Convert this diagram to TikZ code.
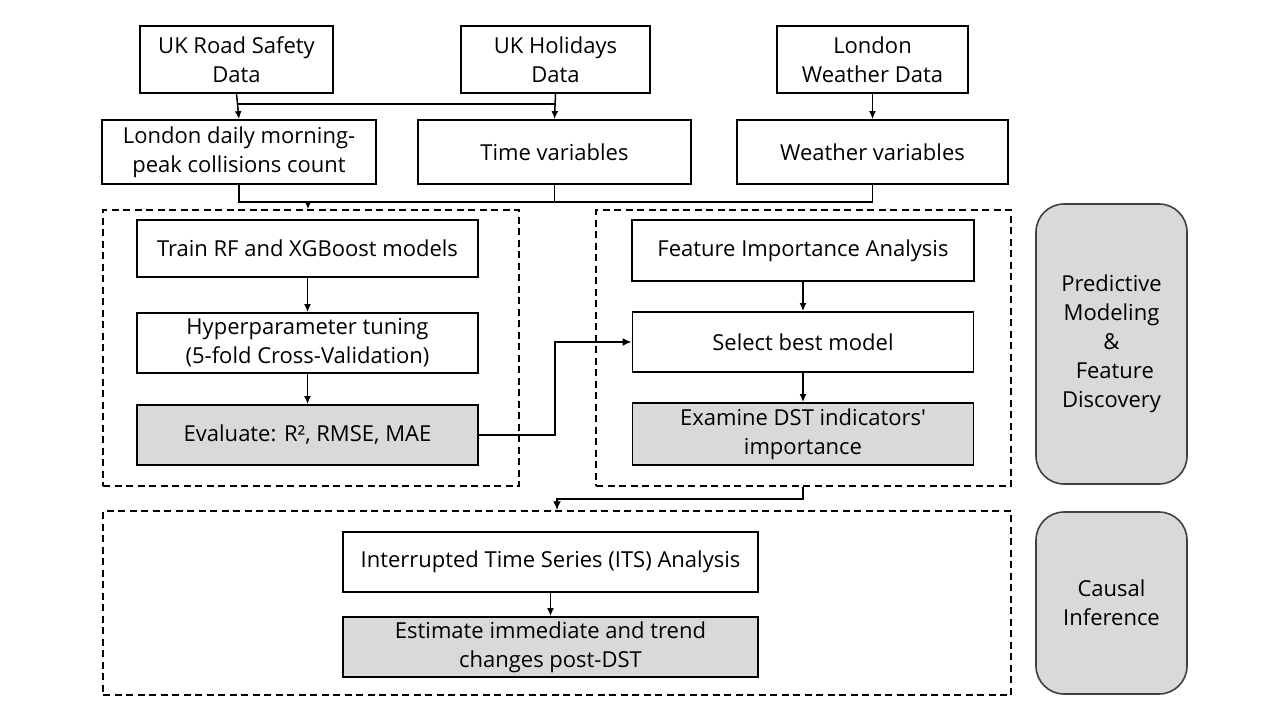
\documentclass[tikz,border=0pt]{standalone}
\usepackage{fontspec}
\setmainfont{Open Sans}
\usetikzlibrary{arrows.meta}

\definecolor{boxgrey}{HTML}{D9D9D9}
\definecolor{phaseedge}{HTML}{404040}

\tikzset{
    box/.style={draw, line width=1.8pt, inner sep=0pt, align=center,
        font=\fontsize{22}{29}\selectfont},
    greybox/.style={box, fill=boxgrey},
    group/.style={draw, line width=1.5pt, dash pattern=on 7pt off 4.5pt},
    phase/.style={draw=phaseedge, fill=boxgrey, line width=1.6pt, rounded corners=28pt,
        align=center, font=\fontsize{22}{29}\selectfont},
    link/.style={-{Latex[length=8pt,width=7pt]}, line width=1.5pt},
    flow/.style={-{Latex[length=9pt,width=8pt]}, line width=2.8pt}
}

\begin{document}
\begin{tikzpicture}[x=1pt,y=-1pt]
        \useasboundingbox (0,0) rectangle (1280,720);
        % data sources
        \node[box, minimum width=193, minimum height=67] (rsd) at (236.5,59.5) {UK Road Safety\\Data};
        \node[box, minimum width=189, minimum height=67] (hol) at (555.5,59.5) {UK Holidays\\Data};
        \node[box, minimum width=191, minimum height=67] (wea) at (872.5,59.5) {London\\Weather Data};
        \node[box, minimum width=274, minimum height=64] (col) at (239,152) {London daily morning-\\peak collisions count};
        \node[box, minimum width=273, minimum height=64] (tim) at (554.5,152) {Time variables};
        \node[box, minimum width=271, minimum height=64] (wvar) at (872.5,152) {Weather variables};
        % groups
        \node[group, minimum width=416, minimum height=276] (grp1) at (311,348) {};
        \node[group, minimum width=415, minimum height=276] (grp2) at (803.5,348) {};
        \node[group, minimum width=908, minimum height=184] (grp3) at (557,603) {};
        % predictive modeling
        \node[box, minimum width=341, minimum height=57] (train) at (307.5,248.5) {Train RF and XGBoost models};
        \node[box, minimum width=341, minimum height=60] (hyper) at (307.5,343) {Hyperparameter tuning\\(5-fold Cross-Validation)};
        \node[greybox, minimum width=341, minimum height=60] (eval) at (307.5,435) {Evaluate: R², RMSE, MAE};
        \node[box, minimum width=342, minimum height=61] (fia) at (803,250.5) {Feature Importance Analysis};
        \node[box, minimum width=341, minimum height=60] (best) at (803,342) {Select best model};
        \node[greybox, minimum width=341, minimum height=62] (dst) at (803,434) {Examine DST indicators\textquotesingle\\importance};
        % causal inference
        \node[box, minimum width=415, minimum height=60] (its) at (550.5,562) {Interrupted Time Series (ITS) Analysis};
        \node[greybox, minimum width=415, minimum height=60] (est) at (550.5,647) {Estimate immediate and trend\\changes post-DST};
        % phases
        \node[phase, minimum width=151, minimum height=280] (ph1) at (1111.5,344) {Predictive\\Modeling\\\&\\\hspace*{0.3em}Feature\\Discovery};
        \node[phase, minimum width=151, minimum height=182] (ph2) at (1111.5,603) {Causal\\Inference};
        % connectors
        \coordinate (split) at (237,104);
        \coordinate (bus) at (308,202);
        \draw[link] (rsd.south) -- (col.north);
        \draw[link] (hol.south) -- (tim.north);
        \draw[line width=1.5pt] (split) -- (split -| hol.south);
        \draw[link] (wea.south) -- (wvar.north);
        \draw[line width=1.5pt] (col.south) |- (bus -| wvar.south) -- (wvar.south);
        \draw[line width=1.5pt] (tim.south) -- (tim.south |- bus);
        \draw[link] (bus) -- (bus |- grp1.north);
        \draw[link] (train.south) -- (hyper.north);
        \draw[link] (hyper.south) -- (eval.north);
        \draw[link] (fia.south) -- (best.north);
        \draw[link] (best.south) -- (dst.north);
        \draw[link] (its.south) -- (est.north);
        \coordinate (bend) at (555,0);
        \draw[flow] (eval.east) -| (bend |- best.west) -- (best.west);
        \coordinate (drop) at (0,499);
        \draw[flow] (dst.south |- grp2.south) -- (dst.south |- drop) -| (grp3.north);
    \end{tikzpicture}
\end{document}
